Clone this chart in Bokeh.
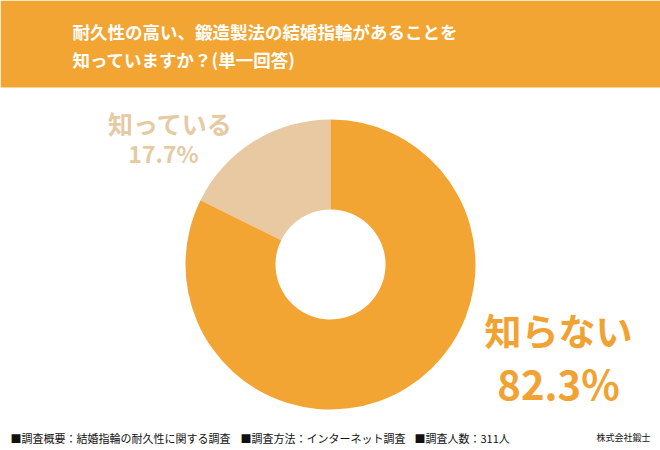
import math
from bokeh.plotting import figure
from bokeh.models import Range1d, ColumnDataSource
from bokeh.core.properties import value
from bokeh.embed import file_html
from bokeh.resources import INLINE

# Survey results
categories = ["知っている", "知らない"]
shares = [17.7, 82.3]
slice_colors = ["#E9C9A1", "#F2A532"]
label_colors = ["#E6CAA3", "#F0A232"]

title_lines = ["耐久性の高い、鍛造製法の結婚指輪があることを", "知っていますか？(単一回答)"]
footer_items = ["■調査概要：結婚指輪の耐久性に関する調査", "■調査方法：インターネット調査", "■調査人数：311人"]
company = "株式会社鍛士"

W, H = 660, 450
JP = value("Noto Sans CJK JP")

p = figure(width=W, height=H, x_range=Range1d(0, W), y_range=Range1d(0, H),
           output_backend="svg", toolbar_location=None, min_border=0)
p.axis.visible = False
p.grid.visible = False
p.outline_line_color = None
p.background_fill_color = "white"

# header band
p.quad(left=0, right=W, bottom=H - 87, top=H, fill_color="#F2A532", line_color=None)
p.text(x=[72, 72], y=[H - 31, H - 59], text=title_lines, text_font=JP,
       text_font_style="bold", text_font_size="17.5px", text_color="white",
       text_align="left", text_baseline="middle")

# donut: start at 12 o'clock, run counter-clockwise
starts, ends = [], []
acc = 0.0
for s in shares:
    a0 = math.pi / 2 + acc / 100 * 2 * math.pi
    acc += s
    a1 = math.pi / 2 + acc / 100 * 2 * math.pi
    starts.append(a0)
    ends.append(a1)
src = ColumnDataSource(dict(start=starts, end=ends, color=slice_colors))
p.annular_wedge(x=330, y=H - 264, inner_radius=55, outer_radius=145,
                start_angle="start", end_angle="end", direction="anticlock",
                fill_color="color", line_color=None, source=src)

# labels
pct = [f"{v:.1f}%" for v in shares]
p.text(x=[170], y=[H - 122], text=[categories[0]], text_font=JP, text_font_style="bold",
       text_font_size="25px", text_color=label_colors[0], text_align="center", text_baseline="middle")
p.text(x=[163], y=[H - 152], text=[pct[0]], text_font=JP, text_font_style="bold",
       text_font_size="23px", text_color=label_colors[0], text_align="center", text_baseline="middle")
p.text(x=[558], y=[H - 329], text=[categories[1]], text_font=JP, text_font_style="bold",
       text_font_size="37px", text_color=label_colors[1], text_align="center", text_baseline="middle")
p.text(x=[558], y=[H - 382], text=[pct[1]], text_font=JP, text_font_style="bold",
       text_font_size="40px", text_color=label_colors[1], text_align="center", text_baseline="middle")

# footer
p.text(x=[10, 240, 414], y=[H - 437] * 3, text=footer_items, text_font=JP,
       text_font_size="11px", text_color="#111111", text_align="left", text_baseline="middle")
p.text(x=[650], y=[H - 437], text=[company], text_font=JP,
       text_font_size="9px", text_color="#111111", text_align="right", text_baseline="middle")

open("out.html", "w").write(file_html(p, INLINE))
